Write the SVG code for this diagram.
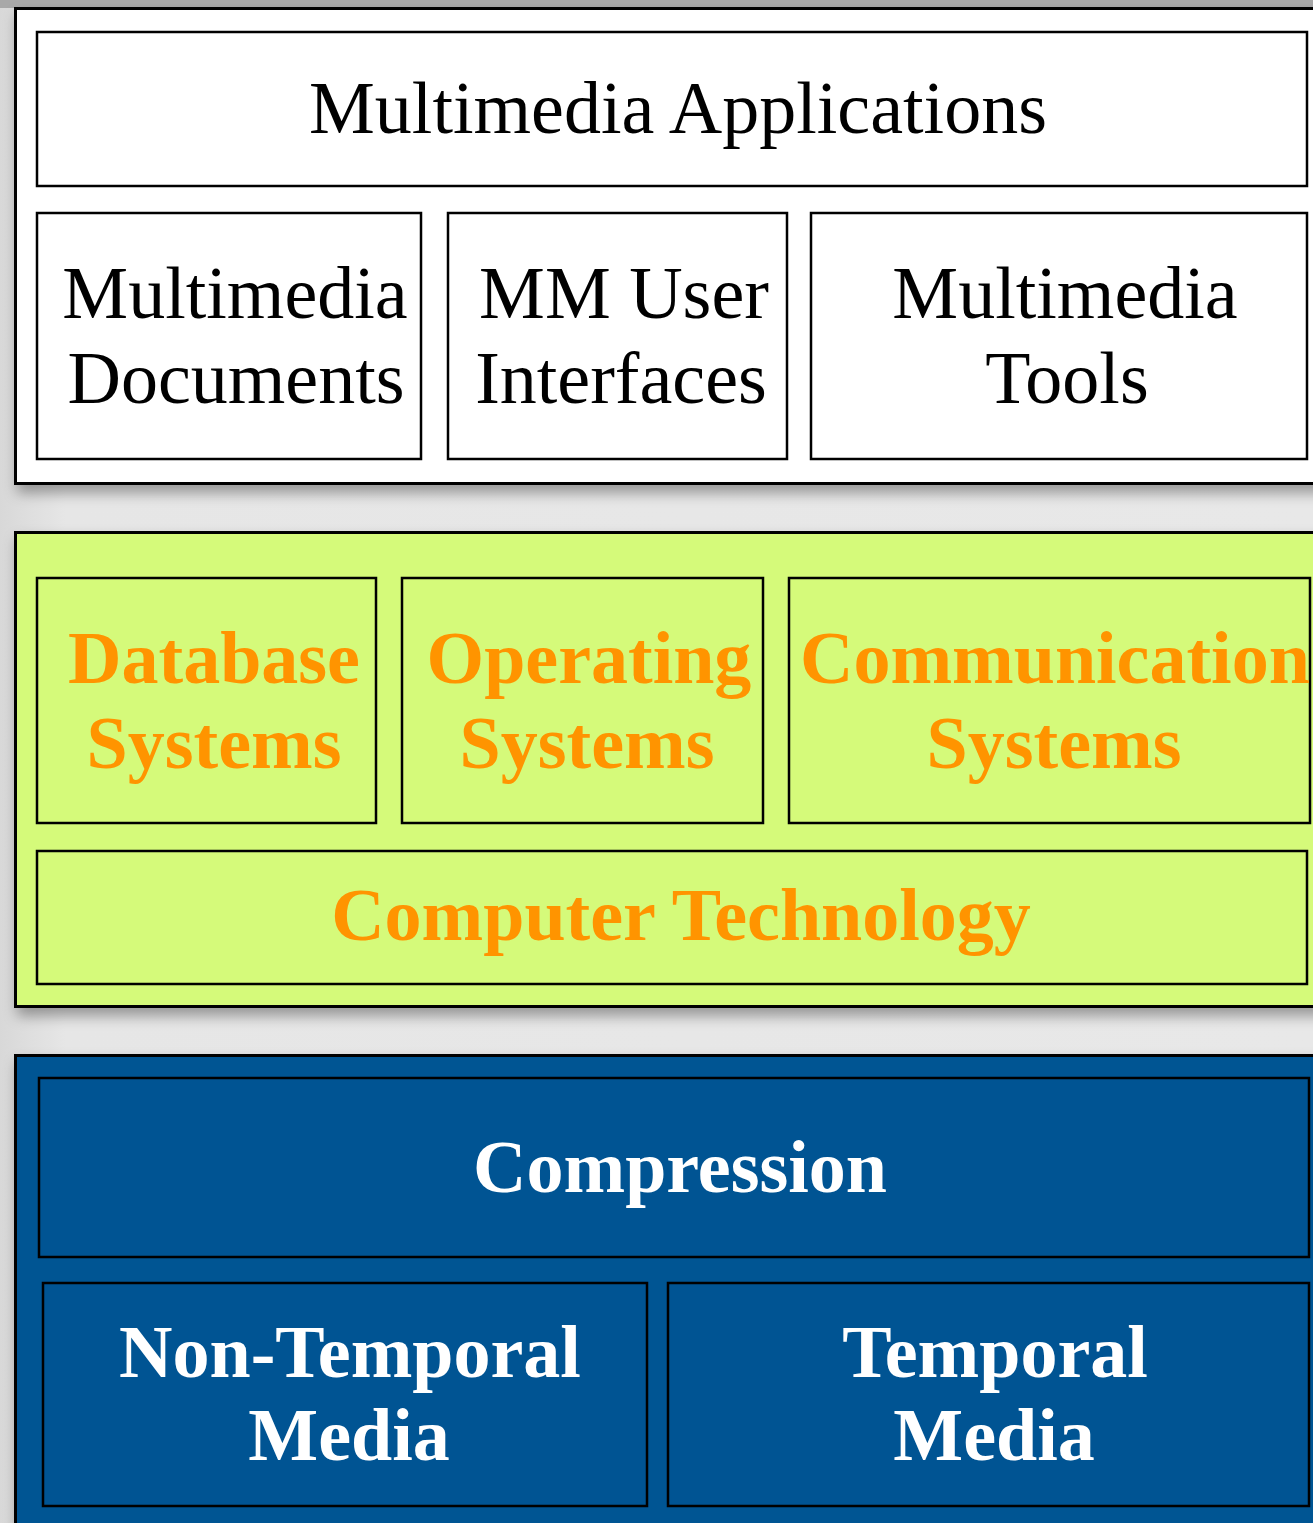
<svg xmlns="http://www.w3.org/2000/svg" width="1313" height="1523" viewBox="0 0 1313 1523">
<defs>
<filter id="sh" x="-5%" y="-5%" width="110%" height="115%">
<feDropShadow dx="3" dy="8" stdDeviation="7" flood-color="#000" flood-opacity="0.35"/>
</filter>
<linearGradient id="bg" x1="0" y1="0" x2="1" y2="0">
<stop offset="0" stop-color="#d8d8d8"/>
<stop offset="0.05" stop-color="#e6e6e6"/>
<stop offset="1" stop-color="#e8e8e8"/>
</linearGradient>
</defs>
<style>
.panel{stroke:#000;stroke-width:3}
.box{stroke:#000;stroke-width:2.5}
.w{fill:#fff}
.g{fill:#d5fa7a}
.b{fill:#005493}
.t{font-family:"Liberation Serif","Times New Roman",serif;font-size:74px;text-anchor:middle}
.tk{fill:#000}
.to{fill:#ff9400;font-weight:bold}
.tw{fill:#fff;font-weight:bold}
</style>
<rect width="1313" height="1523" fill="url(#bg)"/>
<rect x="0" y="0" width="1313" height="8" fill="#a8a8a8"/>
<g id="panel-applications">
<rect class="panel w" x="15.5" y="8.5" width="1310" height="475" filter="url(#sh)"/>
</g>
<g id="panel-computer">
<rect class="panel g" x="15.5" y="532.5" width="1310" height="474" filter="url(#sh)"/>
</g>
<g id="panel-media">
<rect class="panel b" x="15.5" y="1055.5" width="1310" height="480" filter="url(#sh)"/>
</g>
<g id="multimedia-applications">
<rect class="box w" x="37" y="32" width="1270" height="154"/>
<text class="t tk" x="678" y="133">Multimedia Applications</text>
</g>
<g id="multimedia-documents">
<rect class="box w" x="37" y="213" width="384" height="246"/>
<text class="t tk" x="235" y="318">Multimedia</text>
<text class="t tk" x="236" y="403">Documents</text>
</g>
<g id="mm-user-interfaces">
<rect class="box w" x="448" y="213" width="339" height="246"/>
<text class="t tk" x="624" y="318">MM User</text>
<text class="t tk" x="621" y="403">Interfaces</text>
</g>
<g id="multimedia-tools">
<rect class="box w" x="811" y="213" width="496" height="246"/>
<text class="t tk" x="1065" y="318">Multimedia</text>
<text class="t tk" x="1067" y="403">Tools</text>
</g>
<g id="database-systems">
<rect class="box g" x="37" y="578" width="339" height="245"/>
<text class="t to" x="214" y="683">Database</text>
<text class="t to" x="214" y="768">Systems</text>
</g>
<g id="operating-systems">
<rect class="box g" x="402" y="578" width="361" height="245"/>
<text class="t to" x="589" y="683">Operating</text>
<text class="t to" x="587" y="768">Systems</text>
</g>
<g id="communication-systems">
<rect class="box g" x="789" y="578" width="521" height="245"/>
<text class="t to" x="800" y="683" style="text-anchor:start">Communication</text>
<text class="t to" x="1054" y="768">Systems</text>
</g>
<g id="computer-technology">
<rect class="box g" x="37" y="851" width="1270" height="133"/>
<text class="t to" x="681" y="940">Computer Technology</text>
</g>
<g id="compression">
<rect class="box b" x="39" y="1078" width="1270" height="179"/>
<text class="t tw" x="680" y="1192">Compression</text>
</g>
<g id="non-temporal-media">
<rect class="box b" x="43" y="1283" width="604" height="223"/>
<text class="t tw" x="350" y="1377">Non-Temporal</text>
<text class="t tw" x="349" y="1460">Media</text>
</g>
<g id="temporal-media">
<rect class="box b" x="668" y="1283" width="641" height="223"/>
<text class="t tw" x="995" y="1377">Temporal</text>
<text class="t tw" x="994" y="1460">Media</text>
</g>
<g id="connectors"/>
</svg>
